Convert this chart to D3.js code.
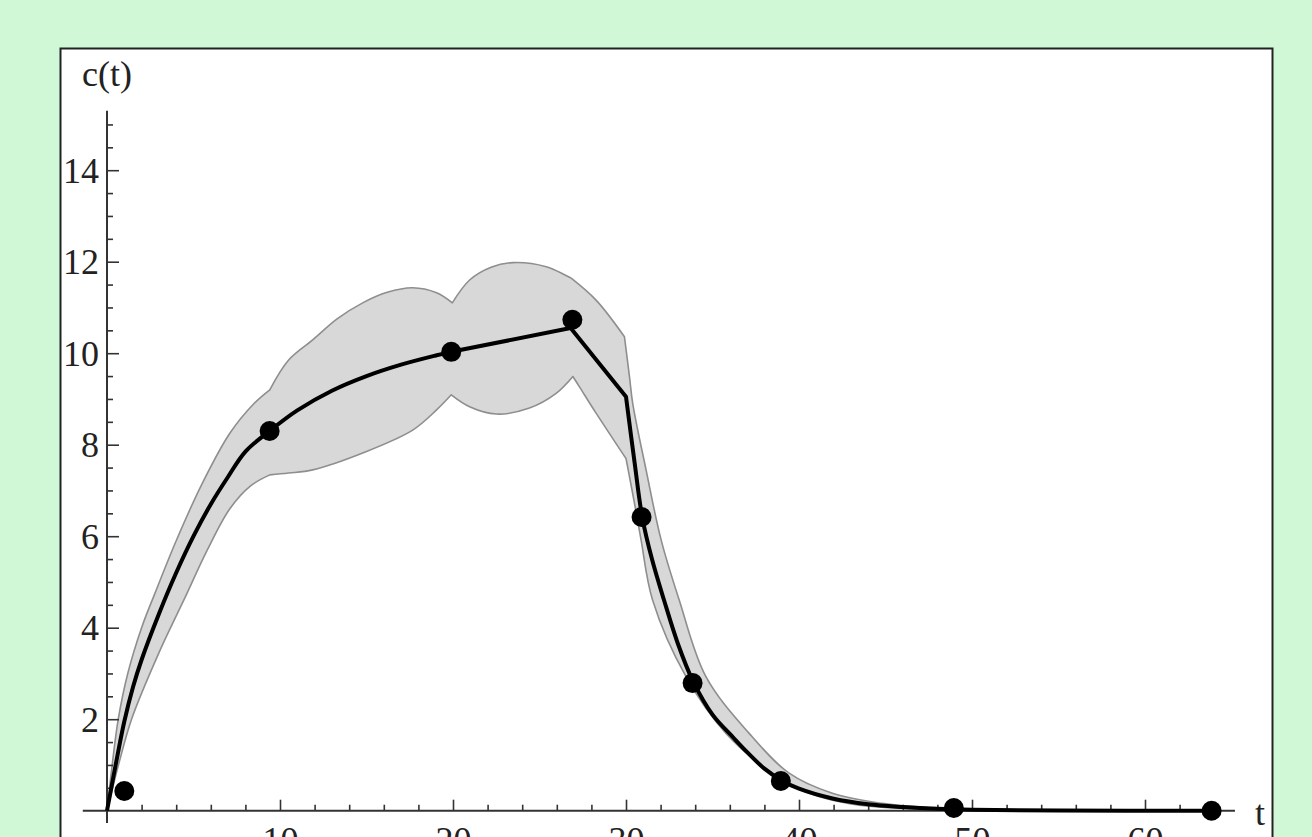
<!DOCTYPE html>
<html>
<head>
<meta charset="utf-8">
<script src="https://cdn.jsdelivr.net/npm/d3@7"></script>
<style>
  html, body { margin: 0; padding: 0; background: #d0f8d6; overflow: hidden; }
  svg { display: block; }
  text { font-family: "Liberation Serif", "Times New Roman", serif; fill: #222; }
</style>
</head>
<body>
<svg id="chart" width="1312" height="837"></svg>
<script>
// ---- data ----
const sampleT = [1.0, 9.4, 19.9, 26.9, 30.9, 33.85, 38.95, 48.95, 63.85];
const sampleC = [0.43, 8.3, 10.03, 10.73, 6.42, 2.79, 0.65, 0.06, 0.0];

const fitT = [0, 0.25, 0.5, 1.0, 1.5, 2.0, 3.0, 4.0, 5.0, 6.0, 7.0, 8.0, 9.4, 11, 13, 15, 17, 19, 19.9, 26.8, 30.0, 30.5, 30.95, 31.5, 32.2, 33.0, 33.85, 35.0, 36.2, 37.0, 38.0, 39.0, 40.0, 42.0, 44.0, 46.0, 48.0, 50.0, 55.0, 64.0];
const fitC = [0, 0.5, 1.0, 1.95, 2.7, 3.3, 4.3, 5.2, 6.0, 6.7, 7.3, 7.85, 8.3, 8.75, 9.18, 9.5, 9.75, 9.95, 10.03, 10.55, 9.05, 7.6, 6.39, 5.5, 4.6, 3.65, 2.85, 2.1, 1.6, 1.28, 0.92, 0.66, 0.48, 0.26, 0.14, 0.08, 0.04, 0.02, 0.005, 0];
const fitKinks = [19.9, 26.8, 30.0];

const upperT = [0, 0.3, 0.65, 1.2, 2.0, 2.77, 4.0, 5.5, 7.1, 8.5, 9.41, 10.5, 11.89, 13.3, 14.78, 16.2, 17.67, 19.05, 19.96, 20.96, 22.2, 23.44, 25.39, 26.83, 28.27, 29.91, 30.2, 30.39, 31.16, 32.03, 33.08, 34.62, 37.12, 39.43, 41.93, 44.8, 47.7, 52, 58];
const upperC = [0, 1.0, 2.0, 3.0, 4.0, 4.75, 5.9, 7.15, 8.25, 8.9, 9.2, 9.85, 10.29, 10.75, 11.1, 11.33, 11.43, 11.32, 11.1, 11.6, 11.88, 11.98, 11.89, 11.64, 11.16, 10.36, 9.49, 8.9, 7.45, 5.92, 4.6, 2.93, 1.69, 0.82, 0.38, 0.16, 0.06, 0.02, 0];
const upperKinks = [9.41, 19.96, 26.83, 29.91];

const lowerT = [0, 0.7, 1.42, 3.0, 4.5, 5.8, 7.1, 8.3, 9.41, 10.5, 11.89, 14.78, 17.67, 19.05, 19.9, 20.96, 22.5, 24.42, 25.96, 26.93, 27.3, 28.27, 29.8, 30.0, 30.55, 30.87, 31.54, 33.47, 35.78, 38.47, 40.5, 43, 46, 50, 58];
const lowerC = [0, 1.05, 2.0, 3.45, 4.65, 5.7, 6.6, 7.1, 7.34, 7.38, 7.45, 7.82, 8.32, 8.76, 9.09, 8.83, 8.67, 8.8, 9.12, 9.49, 9.27, 8.69, 7.81, 7.7, 6.6, 5.92, 4.6, 2.93, 1.69, 0.82, 0.4, 0.15, 0.05, 0.01, 0];
const lowerKinks = [9.41, 19.9, 26.93, 29.8, 30.0];

const xMajorTicks = [10, 20, 30, 40, 50, 60];
const xMinorTicks = [2, 4, 6, 8, 12, 14, 16, 18, 22, 24, 26, 28, 32, 34, 36, 38, 42, 44, 46, 48, 52, 54, 56, 58, 62, 64];
const yMajorTicks = [2, 4, 6, 8, 10, 12, 14];
const yMinorTicks = [0.5, 1, 1.5, 2.5, 3, 3.5, 4.5, 5, 5.5, 6.5, 7, 7.5, 8.5, 9, 9.5, 10.5, 11, 11.5, 12.5, 13, 13.5, 14.5, 15];
const xAxisLabel = "t";
const yAxisLabel = "c(t)";

// ---- drawing ----
const svg = d3.select("#chart");

svg.append("rect").attr("x", 0).attr("y", 0).attr("width", 1312).attr("height", 837).attr("fill", "#d0f8d6");
svg.append("rect").attr("x", 60.5).attr("y", 48.5).attr("width", 1212).attr("height", 820)
  .attr("fill", "#ffffff").attr("stroke", "#222").attr("stroke-width", 2);

const x = d3.scaleLinear().domain([0, 60]).range([107, 1145]);
const y = d3.scaleLinear().domain([0, 14]).range([810.7, 170.2]);

// smooth path through points, keeping sharp corners at kink positions
function pieceLine(pts, kinks) {
  const gen = d3.line().x(d => x(d[0])).y(d => y(d[1])).curve(d3.curveCatmullRom.alpha(0.5));
  const segs = [];
  let cur = [];
  pts.forEach(p => {
    cur.push(p);
    if (kinks.includes(p[0])) { segs.push(cur); cur = [p]; }
  });
  if (cur.length > 1) segs.push(cur);
  return segs.map((s, i) => {
    const d = gen(s);
    return i === 0 ? d : "L" + d.slice(1);
  }).join("");
}

// band
const upperPts = upperT.map((t, i) => [t, upperC[i]]);
const lowerPts = lowerT.map((t, i) => [t, lowerC[i]]).reverse();
const bandPath = pieceLine(upperPts, upperKinks) + "L" + pieceLine(lowerPts, lowerKinks).slice(1) + "Z";
svg.append("path").attr("d", bandPath)
  .attr("fill", "#d8d8d8").attr("stroke", "#8e8e8e").attr("stroke-width", 1.6)
  .attr("stroke-linejoin", "round");

// axes lines
const axisColor = "#333";
svg.append("line").attr("x1", x(-1.4)).attr("x2", x(65.2)).attr("y1", y(0)).attr("y2", y(0))
  .attr("stroke", axisColor).attr("stroke-width", 2);
svg.append("line").attr("x1", x(0)).attr("x2", x(0)).attr("y1", y(-0.27)).attr("y2", y(15.3))
  .attr("stroke", axisColor).attr("stroke-width", 2);

// x ticks
const gx = svg.append("g").attr("transform", `translate(0,${y(0)})`)
  .call(d3.axisBottom(x).tickValues(xMajorTicks).tickSizeInner(-11).tickSizeOuter(0).tickPadding(16).tickFormat(d3.format("d")));
const gxm = svg.append("g").attr("transform", `translate(0,${y(0)})`)
  .call(d3.axisBottom(x).tickValues(xMinorTicks).tickSizeInner(-6).tickSizeOuter(0).tickFormat(""));
// y ticks
const gy = svg.append("g").attr("transform", `translate(${x(0)},0)`)
  .call(d3.axisLeft(y).tickValues(yMajorTicks).tickSizeInner(-12).tickSizeOuter(0).tickPadding(8).tickFormat(d3.format("d")));
const gym = svg.append("g").attr("transform", `translate(${x(0)},0)`)
  .call(d3.axisLeft(y).tickValues(yMinorTicks).tickSizeInner(-6).tickSizeOuter(0).tickFormat(""));

[gx, gxm, gy, gym].forEach(g => {
  g.select(".domain").remove();
  g.selectAll(".tick line").attr("stroke", axisColor).attr("stroke-width", 1.6);
  g.selectAll("text").attr("font-family", "Liberation Serif, serif").attr("font-size", 36).attr("fill", "#222");
});
gy.selectAll(".tick text").attr("dy", "0.33em");
gx.selectAll(".tick text").attr("dy", "0.71em");

// axis labels
svg.append("text").attr("x", 82).attr("y", 86).attr("font-size", 36).text(yAxisLabel);
svg.append("text").attr("x", 1255).attr("y", 825).attr("font-size", 36).text(xAxisLabel);

// fitted line
const fitPts = fitT.map((t, i) => [t, fitC[i]]);
svg.append("path").attr("d", pieceLine(fitPts, fitKinks))
  .attr("fill", "none").attr("stroke", "#000").attr("stroke-width", 4).attr("stroke-linejoin", "round");

// samples
svg.selectAll("circle.pt").data(sampleT.map((t, i) => [t, sampleC[i]])).enter()
  .append("circle").attr("class", "pt")
  .attr("cx", d => x(d[0])).attr("cy", d => y(d[1])).attr("r", 10).attr("fill", "#000");
</script>
</body>
</html>
